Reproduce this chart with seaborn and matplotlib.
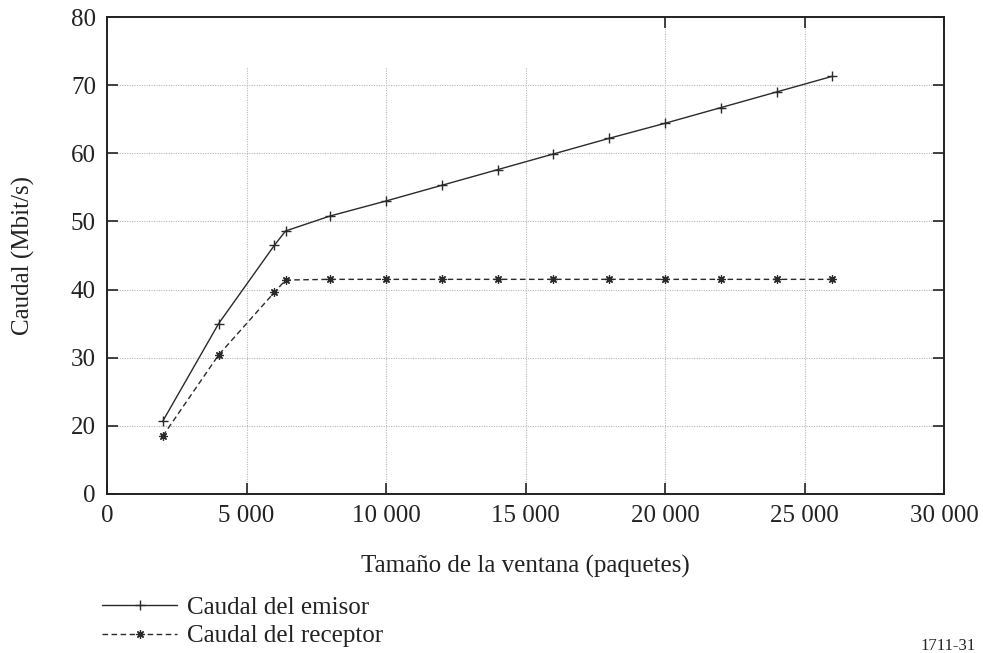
import matplotlib
matplotlib.use("Agg")
import matplotlib.pyplot as plt
import seaborn as sns
import pandas as pd
from matplotlib.patches import Rectangle

# Window size (packets)
ventana = [2000, 4000, 6000, 6400, 8000, 10000, 12000, 14000,
           16000, 18000, 20000, 22000, 24000, 26000]
# Throughput (Mbit/s)
caudal_emisor = [20.7, 35.0, 46.5, 48.6, 50.8, 53.0, 55.3, 57.6,
                 59.9, 62.2, 64.4, 66.7, 69.0, 71.3]
caudal_receptor = [18.5, 30.4, 39.6, 41.4, 41.5, 41.5, 41.5, 41.5,
                   41.5, 41.5, 41.5, 41.5, 41.5, 41.5]

x_ticks = [0, 5000, 10000, 15000, 20000, 25000, 30000]
x_labels = ["0", "5 000", "10 000", "15 000", "20 000", "25 000", "30 000"]
# the y axis starts at 10 but its bottom tick is marked 0 (broken axis)
y_ticks = [10, 20, 30, 40, 50, 60, 70, 80]
y_labels = ["0", "20", "30", "40", "50", "60", "70", "80"]

sns.set_theme(style="white")
plt.rcParams["font.family"] = ["Liberation Serif", "DejaVu Serif"]

df_e = pd.DataFrame({"ventana": ventana, "caudal": caudal_emisor})
df_r = pd.DataFrame({"ventana": ventana, "caudal": caudal_receptor})

fig = plt.figure(figsize=(9.83, 6.53), dpi=100)
ax = fig.add_axes([107 / 983, 1 - 494 / 653, (944 - 107) / 983, (494 - 17) / 653])

line_col = "#2a2a2a"
sns.lineplot(data=df_e, x="ventana", y="caudal", ax=ax, color=line_col,
             linewidth=1.0, marker="+", markersize=7, markeredgewidth=1.0,
             markeredgecolor=line_col, label="Caudal del emisor", zorder=4)
sns.lineplot(data=df_r, x="ventana", y="caudal", ax=ax, color=line_col,
             linewidth=1.0, linestyle=(0, (4, 2.5)), marker=(8, 2, 0),
             markersize=6, markeredgewidth=0.9, markeredgecolor=line_col,
             label="Caudal del receptor", zorder=4)

ax.set_xlim(0, 30000)
ax.set_ylim(10, 80)
ax.set_xticks(x_ticks)
ax.set_xticklabels(x_labels)
ax.set_yticks(y_ticks)
ax.set_yticklabels(y_labels)

ax.grid(True, color="#b8b8b8", linestyle=(0, (1, 1.2)), linewidth=0.8, zorder=0)
ax.set_axisbelow(True)

# blank band along the top of the plotting area
ax.add_patch(Rectangle((0, 1 - (68 - 17) / (494 - 17)), (600 - 107) / (944 - 107),
                       (68 - 17) / (494 - 17), transform=ax.transAxes,
                       facecolor="white", edgecolor="none", zorder=1))

for s in ax.spines.values():
    s.set_color("#222222")
    s.set_linewidth(1.4)

ax.tick_params(axis="both", which="major", direction="in", length=8, width=1.2,
               color="#222222", top=True, right=True, bottom=True, left=True,
               labelsize=18, labelcolor="#222222", pad=8)

ax.set_xlabel("Tamaño de la ventana (paquetes)", fontsize=18, color="#222222",
              labelpad=20)
ax.set_ylabel("Caudal (Mbit/s)", fontsize=18, color="#222222", labelpad=26)

leg = ax.legend(loc="upper left", bbox_to_anchor=(102 / 983, 1 - 596 / 653),
                bbox_transform=fig.transFigure, frameon=False, fontsize=18,
                handlelength=3.0, handletextpad=0.4, labelspacing=0.25,
                borderaxespad=0, borderpad=0)
for t in leg.get_texts():
    t.set_color("#222222")

fig.text(948 / 983, 1 - 646 / 653, "1711-31", fontsize=12, color="#222222",
         ha="center", va="center")

fig.savefig("out.png", dpi=100, facecolor="white")
